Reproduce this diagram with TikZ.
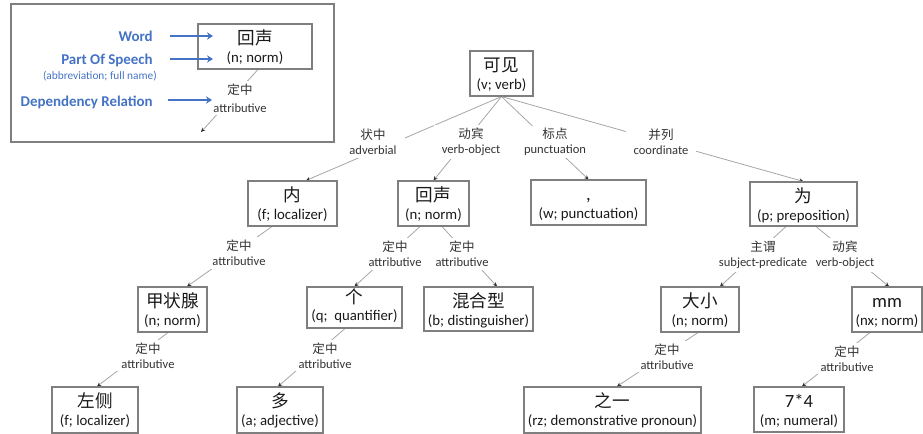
\documentclass[tikz,border=0pt]{standalone}
\usepackage{fontspec}
\setmainfont{Carlito}
\newfontfamily\cjk{Noto Sans CJK SC}
\usetikzlibrary{arrows.meta,backgrounds}
\def\upx{0.75pt}
\definecolor{lgblue}{HTML}{4472C4}
\definecolor{bxgray}{HTML}{7F7F7F}
\definecolor{lngray}{HTML}{A6A6A6}
\definecolor{tipgray}{HTML}{303030}
\newcommand\lcjk[1]{{\cjk #1}}
\tikzset{
  wbox/.style={draw=bxgray, line width=0.8pt, inner sep=0pt},
  wtxt/.style={inner sep=0pt, anchor=base, text=black!90,
    font=\cjk\fontsize{13.2}{14}\selectfont},
  wlat/.style={inner sep=0pt, anchor=base, text=black!90,
    font=\fontsize{14}{15}\selectfont},
  ptxt/.style={inner sep=0pt, anchor=base, text=black!90,
    font=\fontsize{11.1}{13}\selectfont},
  lbl/.style={fill=white, inner xsep=6pt, inner ysep=2pt, align=center,
    text=black!80, font=\fontsize{9.4}{11.3}\selectfont},
  dep/.style={draw=lngray, line width=0.6pt,
    -{Stealth[length=3.2pt,width=3pt,color=tipgray]}},
  legarrow/.style={draw=lgblue, line width=2pt, -{Stealth[length=4.5pt,width=5.5pt]}},
  legtext/.style={text=lgblue, font=\bfseries\fontsize{11.2}{13}\selectfont,
    anchor=east, inner sep=0pt},
}
% box: name, x, y, width, height, word style, word, part of speech
\newcommand\wbx[8]{%
  \node[wbox, minimum width=#4*\upx, minimum height=#5*\upx] (#1) at (#2,#3) {};
  \node[#6] (#1-w) at ([yshift=-21.5*\upx]#1.north) {#7};
  \node[ptxt] (#1-p) at ([yshift=-39*\upx]#1.north) {#8};
}
\begin{document}
\begin{tikzpicture}[x=0.75pt,y=-0.75pt]
\useasboundingbox (0,0) rectangle (923,434);
% ---------- legend ----------
\draw[draw=bxgray, line width=1.1pt] (11,4) rectangle (334,142);
\wbx{lg}{255}{46.5}{114}{45}{wtxt}{回声}{(n; norm)}
\node[legtext] (lgword) at (153,36) {Word};
\node[legtext] (lgpos) at (153,60) {Part Of Speech};
\node[legtext, font=\fontsize{8.5}{10}\selectfont] (lgabbr) at (157,76) {(abbreviation; full name)};
\node[legtext] (lgdep) at (153,102) {Dependency Relation};
\node[lbl, font=\fontsize{9.4}{13.5}\selectfont] (lglab) at (240,98) {\lcjk{定中}\\attributive};
\coordinate (lgend) at (201,132);
\coordinate (a1s) at (170,36); \coordinate (a1e) at (213,36);
\coordinate (a2s) at (170,59); \coordinate (a2e) at (213,59);
\coordinate (a3s) at (168,100); \coordinate (a3e) at (212,100);
\draw[legarrow] (a1s) -- (a1e);
\draw[legarrow] (a2s) -- (a2e);
\draw[legarrow] (a3s) -- (a3e);
% ---------- word boxes ----------
\wbx{kejian}{501.5}{73.5}{63}{45}{wtxt}{可见}{(v; verb)}
\wbx{nei}{292.5}{203.5}{89}{45}{wtxt}{内}{(f; localizer)}
\wbx{huisheng}{433.5}{203.5}{71}{45}{wtxt}{回声}{(n; norm)}
\wbx{dou}{588.5}{202.5}{115}{45}{wlat}{,}{(w; punctuation)}
\wbx{wei}{803.5}{204}{107}{44}{wtxt}{为}{(p; preposition)}
\wbx{jzx}{172.5}{309.5}{69}{45}{wtxt}{甲状腺}{(n; norm)}
% the quantifier box is a little lower than the others
\node[wbox, minimum width=95*\upx, minimum height=41*\upx] (ge) at (354.5,307.5) {};
\node[wtxt] (ge-w) at ([yshift=-17.5*\upx]ge.north) {个};
\node[ptxt] (ge-p) at ([yshift=-34.5*\upx]ge.north) {(q;\ \ quantifier)};
\wbx{hhx}{478.5}{309}{109}{44}{wtxt}{混合型}{(b; distinguisher)}
\wbx{daxiao}{700}{309.5}{78}{45}{wtxt}{大小}{(n; norm)}
\wbx{mm}{887}{309.5}{70}{45}{wlat}{mm}{(nx; norm)}
\wbx{zuoce}{95}{410}{86}{46}{wtxt}{左侧}{(f; localizer)}
\wbx{duo}{280}{410}{86}{46}{wtxt}{多}{(a; adjective)}
\wbx{zhiyi}{612.5}{410}{177}{46}{wtxt}{之一}{(rz; demonstrative pronoun)}
\wbx{qisi}{799}{409.5}{90}{45}{wlat}{7*4}{(m; numeral)}
% ---------- relation labels ----------
\node[lbl] (l1) at (373,142) {\lcjk{状中}\\adverbial};
\node[lbl] (l2) at (471,142) {\lcjk{动宾}\\verb-object};
\node[lbl] (l3) at (555,142) {\lcjk{标点}\\punctuation};
\node[lbl] (l4) at (661,142) {\lcjk{并列}\\coordinate};
\node[lbl] (l5) at (239,253) {\lcjk{定中}\\attributive};
\node[lbl] (l6) at (395,254) {\lcjk{定中}\\attributive};
\node[lbl] (l7) at (462,254) {\lcjk{定中}\\attributive};
\node[lbl] (l8) at (763,255) {\lcjk{主谓}\\subject-predicate};
\node[lbl] (l9) at (845,255) {\lcjk{动宾}\\verb-object};
\node[lbl] (l10) at (148,355.5) {\lcjk{定中}\\attributive};
\node[lbl] (l11) at (325,355.5) {\lcjk{定中}\\attributive};
\node[lbl] (l12) at (667,356.5) {\lcjk{定中}\\attributive};
\node[lbl] (l13) at (847,358.5) {\lcjk{定中}\\attributive};
% ---------- dependency connectors ----------
\begin{pgfonlayer}{background}
\draw[dep] ([xshift=3*\upx]lg.south) -- (lgend);
\draw[dep] (kejian.south) -- ([xshift=13.5*\upx]nei.north);
\draw[dep] (kejian.south) -- (huisheng.north);
\draw[dep] (kejian.south) -- (dou.north);
\draw[dep] (kejian.south) -- (wei.north);
\draw[dep] ([xshift=-20.5*\upx]nei.south) -- ([xshift=14.5*\upx]jzx.north);
\draw[dep] ([xshift=-13.5*\upx]huisheng.south) -- (ge.north);
\draw[dep] ([xshift=8.5*\upx]huisheng.south) -- ([xshift=18.5*\upx]hhx.north);
\draw[dep] ([xshift=-17.5*\upx]wei.south) -- ([xshift=20*\upx]daxiao.north);
\draw[dep] ([xshift=12.5*\upx]wei.south) -- ([xshift=2*\upx]mm.north);
\draw[dep] ([xshift=-4.5*\upx]jzx.south) -- ([xshift=2*\upx]zuoce.north);
\draw[dep] ([xshift=-9.5*\upx]ge.south) -- ([xshift=-2*\upx]duo.north);
\draw[dep] ([xshift=-2*\upx]daxiao.south) -- ([xshift=4.5*\upx]zhiyi.north);
\draw[dep] ([xshift=-17*\upx]mm.south) -- ([xshift=3*\upx]qisi.north);
\end{pgfonlayer}
\end{tikzpicture}
\end{document}
